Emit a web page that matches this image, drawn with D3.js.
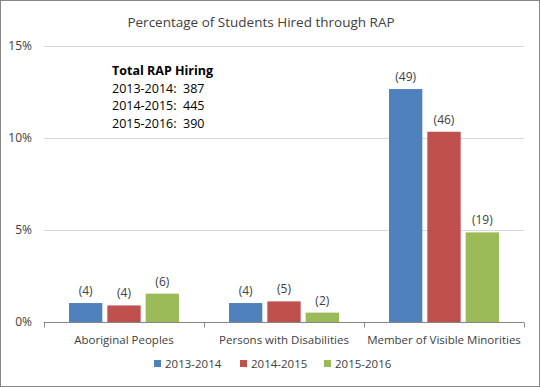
<!DOCTYPE html>
<meta charset="utf-8">
<title>Percentage of Students Hired through RAP</title>
<style>
body { margin: 0; background: #fff; }
svg { display: block; font-family: "Open Sans", sans-serif; }
.grid line { stroke: #d9d9d9; }
.lbl { fill: #404040; }
.row { white-space: pre; }
</style>
<body>
<svg id="chart" width="540" height="387"></svg>
<script src="https://cdn.jsdelivr.net/npm/d3@7"></script>
<script>
// chart data
var categories = ["Aboriginal Peoples", "Persons with Disabilities", "Member of Visible Minorities"];
var years = ["2013-2014", "2014-2015", "2015-2016"];
var colors = ["#4f81bd", "#c0504d", "#9bbb59"];
// percentage of students hired, per year, per category
var pct2013 = [1.03, 1.03, 12.66];
var pct2014 = [0.90, 1.12, 10.34];
var pct2015 = [1.54, 0.51, 4.87];
// counts shown above the bars
var cnt2013 = [4, 4, 49];
var cnt2014 = [4, 5, 46];
var cnt2015 = [6, 2, 19];
var totals = [387, 445, 390];
var yTicks = [0, 5, 10, 15];

var series = [pct2013, pct2014, pct2015];
var counts = [cnt2013, cnt2014, cnt2015];

var svg = d3.select("#chart");
var W = 540, H = 387;
var m = {left: 44, right: 16, top: 46, bottom: 65};

// outer border
svg.append("rect").attr("x", 0.5).attr("y", 0.5)
  .attr("width", W - 1).attr("height", H - 1)
  .attr("fill", "#fff").attr("stroke", "#868686");

var x0 = d3.scaleBand().domain(categories).range([m.left, W - m.right]);
var x1 = d3.scaleBand().domain(years).range([25, x0.bandwidth() - 25]).paddingInner(0.13);
var y = d3.scaleLinear().domain([0, 15]).range([H - m.bottom, m.top]);

// gridlines
svg.append("g").attr("class", "grid")
  .selectAll("line").data(yTicks.slice(1)).join("line")
  .attr("x1", m.left).attr("x2", W - m.right)
  .attr("y1", function(d){ return Math.round(y(d)) + 0.5; })
  .attr("y2", function(d){ return Math.round(y(d)) + 0.5; });

// y axis labels
svg.append("g").selectAll("text").data(yTicks).join("text")
  .attr("class", "lbl")
  .attr("x", 32).attr("y", function(d){ return y(d) + 4; })
  .attr("text-anchor", "end").attr("font-size", 12)
  .text(function(d){ return d + "%"; });

// bars
var groups = svg.append("g").selectAll("g").data(categories).join("g")
  .attr("transform", function(d){ return "translate(" + x0(d) + ",0)"; });

years.forEach(function(yr, j){
  groups.append("rect")
    .attr("x", x1(yr))
    .attr("width", x1.bandwidth())
    .attr("y", function(d, i){ return y(series[j][i]); })
    .attr("height", function(d, i){ return y(0) - y(series[j][i]); })
    .attr("fill", colors[j]);
  groups.append("text")
    .attr("class", "lbl")
    .attr("x", x1(yr) + x1.bandwidth() / 2)
    .attr("y", function(d, i){ return y(series[j][i]) - 8; })
    .attr("text-anchor", "middle").attr("font-size", 12)
    .text(function(d, i){ return "(" + counts[j][i] + ")"; });
});

// x axis
var xa = svg.append("g").attr("transform", "translate(0," + (Math.round(y(0)) + 0.5) + ")");
xa.append("line").attr("x1", m.left).attr("x2", W - m.right).attr("stroke", "#868686");
var edges = categories.map(function(c){ return x0(c); }).concat([W - m.right]);
xa.selectAll("line.tk").data(edges).join("line").attr("class", "tk")
  .attr("x1", function(d){ return Math.round(d) + 0.5; })
  .attr("x2", function(d){ return Math.round(d) + 0.5; })
  .attr("y1", 0).attr("y2", 5).attr("stroke", "#868686");
xa.selectAll("text").data(categories).join("text")
  .attr("class", "lbl")
  .attr("x", function(d){ return x0(d) + x0.bandwidth() / 2; })
  .attr("y", 21).attr("text-anchor", "middle").attr("font-size", 11.5)
  .text(function(d){ return d; });

// title
svg.append("text").attr("class", "lbl")
  .attr("x", 261).attr("y", 27).attr("text-anchor", "middle").attr("font-size", 13.5)
  .text("Percentage of Students Hired through RAP");

// total hiring note
var note = svg.append("g").attr("transform", "translate(112,75)");
note.append("text").attr("font-size", 12.5).attr("font-weight", "bold").attr("fill", "#000")
  .text("Total RAP Hiring");
note.selectAll("text.row").data(years).join("text").attr("class", "row")
  .attr("y", function(d, i){ return 17.5 * (i + 1); })
  .attr("font-size", 12.5).attr("fill", "#000")
  .text(function(d, i){ return d + ":  " + totals[i]; });

// legend
var lg = svg.append("g").attr("transform", "translate(0,368)");
var lx = [154, 240, 324];
years.forEach(function(yr, j){
  lg.append("rect").attr("x", lx[j]).attr("y", -8).attr("width", 7).attr("height", 7).attr("fill", colors[j]);
  lg.append("text").attr("class", "lbl").attr("x", lx[j] + 11).attr("y", 0)
    .attr("font-size", 11.5).text(yr);
});
</script>
</body>
